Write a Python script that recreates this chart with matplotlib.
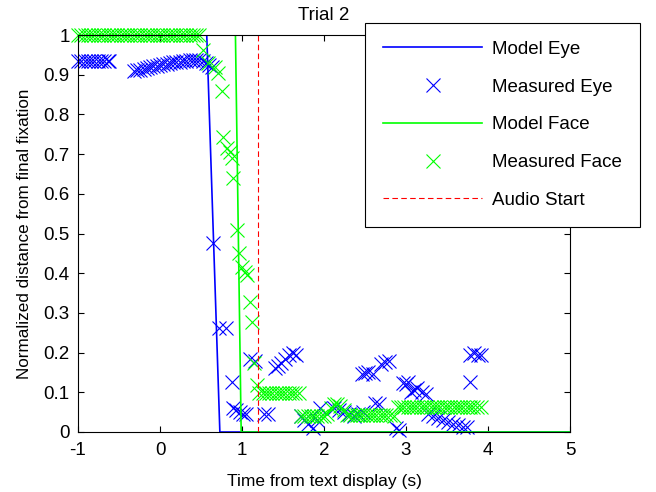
import matplotlib
matplotlib.use("Agg")
import matplotlib.pyplot as plt

plt.rcParams['font.family'] = ['Liberation Sans', 'DejaVu Sans']

# model curves (break points)
model_eye_t = [-1.0, 0.57, 0.73, 5.0]
model_eye_d = [1.0, 1.0, 0.0, 0.0]
model_face_t = [-1.0, 0.92, 0.99, 5.0]
model_face_d = [1.0, 1.0, 0.0, 0.0]
audio_start = 1.19

# measured eye samples
eye_t = [-1.00, -0.96, -0.92, -0.88, -0.84, -0.80, -0.76, -0.72, -0.68, -0.64, -0.62,
         -0.32, -0.28, -0.24, -0.20, -0.16, -0.12, -0.08, -0.04, 0.00, 0.04, 0.08,
         0.12, 0.16, 0.20, 0.24, 0.28, 0.32, 0.36, 0.40, 0.44, 0.48,
         0.52, 0.56, 0.60, 0.63,
         0.65,
         0.72, 0.81,
         0.88,
         0.89, 0.93, 0.97, 1.01, 1.05,
         1.10, 1.16,
         1.27, 1.32,
         1.40, 1.44,
         1.47, 1.52, 1.57, 1.62, 1.66,
         1.72, 1.76, 1.80, 1.86, 1.92, 1.95,
         2.12, 2.18, 2.24, 2.30, 2.36, 2.42, 2.48,
         2.46, 2.50, 2.54, 2.60,
         2.70, 2.74, 2.79,
         2.62, 2.67,
         2.88, 2.92,
         2.96, 3.00, 3.02,
         3.06, 3.10, 3.14, 3.19, 3.24,
         3.27, 3.33, 3.39, 3.45, 3.51, 3.57, 3.63, 3.69, 3.74,
         3.78,
         3.78, 3.83, 3.88, 3.91]
eye_d = [0.935, 0.935, 0.935, 0.935, 0.935, 0.935, 0.935, 0.935, 0.935, 0.935, 0.935,
         0.909, 0.911, 0.913, 0.915, 0.917, 0.919, 0.921, 0.923, 0.925, 0.927, 0.928,
         0.930, 0.931, 0.932, 0.933, 0.934, 0.935, 0.936, 0.936, 0.937, 0.937,
         0.935, 0.930, 0.925, 0.920,
         0.476,
         0.262, 0.262,
         0.126,
         0.060, 0.055, 0.050, 0.045, 0.045,
         0.185, 0.180,
         0.045, 0.045,
         0.160, 0.165,
         0.175, 0.185, 0.195, 0.200, 0.195,
         0.040, 0.030, 0.020, 0.010, 0.030, 0.060,
         0.060, 0.055, 0.050, 0.045, 0.040, 0.045, 0.050,
         0.145, 0.148, 0.150, 0.147,
         0.172, 0.176, 0.178,
         0.073, 0.070,
         0.010, 0.005,
         0.123, 0.120, 0.125,
         0.100, 0.105, 0.110, 0.100, 0.095,
         0.045, 0.040, 0.035, 0.030, 0.025, 0.020, 0.017, 0.013, 0.012,
         0.126,
         0.195, 0.200, 0.195, 0.195]

# measured face samples
face_t = [-1.00, -0.96, -0.92, -0.88, -0.84, -0.80, -0.76, -0.72, -0.68, -0.64,
          -0.60, -0.56, -0.52, -0.48, -0.44, -0.40, -0.36, -0.32, -0.28, -0.24,
          -0.20, -0.16, -0.12, -0.08, -0.04, 0.00, 0.04, 0.08, 0.12, 0.16,
          0.20, 0.24, 0.28, 0.32, 0.36, 0.40, 0.44, 0.48,
          0.52, 0.585, 0.67, 0.71, 0.76,
          0.77, 0.82, 0.85, 0.88, 0.89, 0.94, 0.96, 1.00, 1.04, 1.06, 1.10, 1.12,
          1.15, 1.18,
          1.21, 1.25, 1.29, 1.33, 1.37, 1.41, 1.45, 1.49, 1.53, 1.57, 1.61, 1.65, 1.69,
          1.72, 1.76, 1.80, 1.84, 1.88, 1.92, 1.96, 2.00, 2.04,
          2.08, 2.12, 2.16, 2.20, 2.24,
          2.28, 2.32, 2.36, 2.40, 2.44, 2.48, 2.52, 2.56, 2.60, 2.64, 2.68, 2.72, 2.76, 2.80, 2.85,
          2.90, 2.94, 2.98, 3.02, 3.06, 3.10, 3.14, 3.18, 3.22, 3.26, 3.30, 3.34, 3.38,
          3.42, 3.46, 3.50, 3.54, 3.58, 3.62, 3.66, 3.70, 3.74, 3.78, 3.82, 3.86, 3.91]
face_d = [1.0] * 38 + \
         [0.962, 0.930, 0.920, 0.905, 0.860,
          0.743, 0.715, 0.705, 0.690, 0.640, 0.509, 0.450, 0.415, 0.403, 0.395, 0.327, 0.277,
          0.175, 0.118,
          0.097, 0.097, 0.097, 0.097, 0.097, 0.097, 0.097, 0.097, 0.097, 0.097, 0.097, 0.097, 0.097,
          0.040, 0.040, 0.040, 0.040, 0.040, 0.040, 0.040, 0.040, 0.045,
          0.060, 0.070, 0.070, 0.065, 0.055,
          0.043, 0.043, 0.043, 0.043, 0.043, 0.043, 0.043, 0.043, 0.043, 0.043, 0.043, 0.043,
          0.043, 0.043, 0.040,
          0.063, 0.063, 0.063, 0.063, 0.063, 0.063, 0.063, 0.063, 0.063, 0.063, 0.063, 0.063, 0.063,
          0.063, 0.063, 0.063, 0.063, 0.063, 0.063, 0.063, 0.063, 0.063, 0.063, 0.063, 0.063, 0.063]

x_ticks = [-1, 0, 1, 2, 3, 4, 5]
y_ticks = [0, 0.1, 0.2, 0.3, 0.4, 0.5, 0.6, 0.7, 0.8, 0.9, 1]
y_tick_labels = ['0', '0.1', '0.2', '0.3', '0.4', '0.5', '0.6', '0.7', '0.8', '0.9', '1']

fig = plt.figure(figsize=(6.56, 4.92), dpi=100)
ax = fig.add_axes([78 / 656, 60 / 492, 492 / 656, 397 / 492])

ms = 9.5
mew = 0.8
ax.plot(model_eye_t, model_eye_d, color=(0, 0, 1), lw=1.2, label='Model Eye')
ax.plot(eye_t, eye_d, linestyle='none', marker='x', ms=ms, mew=mew,
        color=(0, 0, 1), clip_on=False, label='Measured Eye')
ax.plot(model_face_t, model_face_d, color=(0, 1, 0), lw=1.2, label='Model Face')
ax.plot(face_t, face_d, linestyle='none', marker='x', ms=ms, mew=mew,
        color=(0, 1, 0), clip_on=False, label='Measured Face')
ax.plot([audio_start, audio_start], [0, 1], color=(1, 0, 0), lw=0.8,
        dashes=(5, 3), label='Audio Start')

ax.set_xlim(-1, 5)
ax.set_ylim(0, 1)
ax.set_xticks(x_ticks)
ax.set_xticklabels(['-1', '0', '1', '2', '3', '4', '5'])
ax.set_yticks(y_ticks)
ax.set_yticklabels(y_tick_labels)
ax.tick_params(direction='in', length=4, width=0.8, top=True, right=True,
               labelsize=13.5, color='black')
ax.tick_params(axis='x', pad=7)
ax.tick_params(axis='y', pad=6)
for s in ax.spines.values():
    s.set_linewidth(0.8)

ax.set_title('Trial 2', fontsize=13.5, pad=11)
ax.set_xlabel('Time from text display (s)', fontsize=12.5, labelpad=11)
ax.set_ylabel('Normalized distance from final fixation', fontsize=12.3, labelpad=8)

leg = fig.legend(loc='upper left', bbox_to_anchor=(365 / 656, 1 - 23 / 492),
                 fontsize=13.5, numpoints=1, handlelength=5.3, handletextpad=0.55,
                 labelspacing=1.1, borderpad=0.95, borderaxespad=0,
                 fancybox=False, framealpha=1, edgecolor='black')
leg.get_frame().set_linewidth(0.8)
for h in leg.legend_handles:
    h.set_markersize(ms)

fig.savefig('out.png', dpi=100)
